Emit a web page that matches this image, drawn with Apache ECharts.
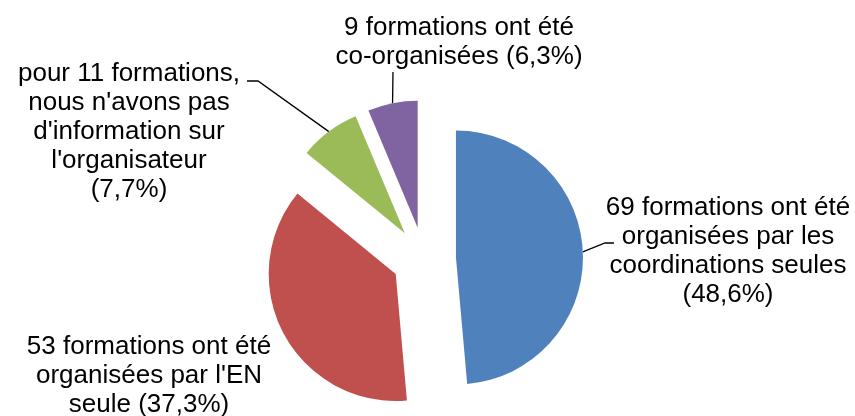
<!DOCTYPE html>
<html>
<head>
<meta charset="utf-8">
<script src="https://cdn.jsdelivr.net/npm/echarts@6/dist/echarts.min.js"></script>
<style>
html, body { margin: 0; padding: 0; background: #fff; }
#chart { width: 855px; height: 416px; }
</style>
</head>
<body>
<div id="chart"></div>
<script>
var categories = ['coordinations seules', "l'EN seule", 'sans information', 'co-organisées']
var values = [69, 53, 11, 9]
var colors = ['#4F81BD', '#C0504D', '#9BBB59', '#8064A2']
var labelTemplates = [
  '{v} formations ont été\norganisées par les\ncoordinations seules\n({p})',
  "{v} formations ont été\norganisées par l'EN\nseule ({p})",
  "pour {v} formations,\nnous n'avons pas\nd'information sur\nl'organisateur\n({p})",
  '{v} formations ont été\nco-organisées ({p})'
]

// centre of each text block + bends of its leader line
var labelPos = [
  { x: 728, y: 251, line: [[605, 243], [614, 243]] },
  { x: 149, y: 376, line: null },
  { x: 129, y: 132, line: [[258, 81], [247, 81]] },
  { x: 459, y: 42, line: [[393, 72]] }
]

var pieCenter = [424, 259]
var pieRadius = 127
var explode = 32

var total = values.reduce(function (a, b) { return a + b }, 0)

var sliceData = values.map(function (v, i) {
  return { name: categories[i], value: v, selected: true, itemStyle: { color: colors[i] } }
})

// invisible copy of the pie, as big as the exploded one, that only carries the labels
var labelData = values.map(function (v, i) {
  return { name: categories[i], value: v, labelLine: { show: !!labelPos[i].line } }
})

var myChart = echarts.init(document.getElementById('chart'))
var option = {
  animation: false,
  series: [{
    type: 'pie',
    center: pieCenter,
    radius: pieRadius,
    startAngle: 90,
    clockwise: true,
    selectedMode: 'multiple',
    selectedOffset: explode,
    silent: true,
    data: sliceData,
    itemStyle: { borderWidth: 0 },
    select: { itemStyle: { borderWidth: 0 } },
    label: { show: false },
    labelLine: { show: false }
  }, {
    type: 'pie',
    center: pieCenter,
    radius: pieRadius + explode,
    startAngle: 90,
    clockwise: true,
    silent: true,
    avoidLabelOverlap: false,
    data: labelData,
    itemStyle: { color: 'rgba(0,0,0,0)', borderWidth: 0 },
    label: {
      show: true,
      position: 'outside',
      color: '#000',
      fontFamily: 'Liberation Sans',
      fontSize: 26,
      lineHeight: 29,
      align: 'center',
      formatter: function (p) {
        var pct = (Math.round(p.value / total * 1000) / 10).toFixed(1).replace('.', ',') + '%'
        return labelTemplates[p.dataIndex].replace('{v}', p.value).replace('{p}', pct)
      }
    },
    labelLine: {
      show: true,
      length: 10,
      length2: 10,
      lineStyle: { color: '#000', width: 1.3 }
    },
    labelLayout: function (params) {
      var pos = labelPos[params.dataIndex]
      var res = { x: pos.x, y: pos.y, align: 'center', verticalAlign: 'middle' }
      if (pos.line && params.labelLinePoints) {
        res.labelLinePoints = [params.labelLinePoints[0]].concat(pos.line)
      }
      return res
    }
  }]
}
myChart.setOption(option)
</script>
</body>
</html>
